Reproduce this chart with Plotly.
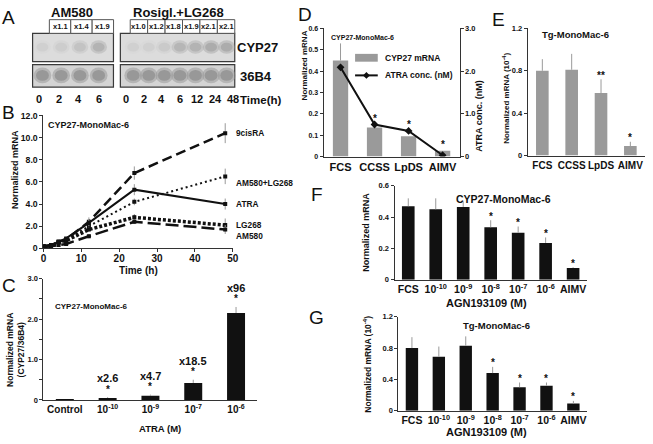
import plotly.graph_objects as go

W, H = 653, 444
FONT = "Liberation Sans, Arial, Helvetica, sans-serif"
INK = "#111111"
GRAYBAR = "#9a9a9a"
ERR = "#9a9a9a"

# ---------------- data ----------------
# Panel A: Northern blot, CYP27 fold induction
a_left_title = "AM580"
a_left_times = ["0", "2", "4", "6"]
a_left_fold = [1.0, 1.1, 1.4, 1.9]
a_left_fold_txt = ["", "x1.1", "x1.4", "x1.9"]
a_right_title = "Rosigl.+LG268"
a_right_times = ["0", "2", "4", "6", "12", "24", "48"]
a_right_fold = [1.0, 1.0, 1.2, 1.8, 1.9, 2.1, 2.1]
a_right_fold_txt = ["", "x1.0", "x1.2", "x1.8", "x1.9", "x2.1", "x2.1"]

# Panel B: time course
b_time = [0, 2, 4, 6, 12, 24, 48]
b_names = ["9cisRA", "AM580+LG268", "ATRA", "LG268", "AM580"]
b_9cisra = [0.2, 0.3, 0.6, 0.8, 2.4, 6.8, 10.4]
b_am580_lg268 = [0.2, 0.3, 0.5, 0.8, 2.0, 4.2, 6.5]
b_atra = [0.2, 0.3, 0.6, 0.9, 2.3, 5.3, 4.0]
b_lg268 = [0.2, 0.2, 0.6, 0.7, 1.7, 2.8, 2.1]
b_am580 = [0.1, 0.2, 0.3, 0.4, 1.1, 2.4, 1.7]
b_err_9cisra = [0, 0, 0, 0, 0.4, 0.6, 0.9]
b_err_am580_lg268 = [0, 0, 0, 0, 0.3, 0.3, 0.7]
b_err_atra = [0, 0, 0, 0, 0.3, 0.5, 0.5]
b_err_lg268 = [0, 0, 0, 0, 0.2, 0.3, 0.6]
b_err_am580 = [0, 0, 0, 0, 0.2, 0.2, 0.4]

# Panel C: ATRA dose response
c_cats = ["Control", "10<sup>-10</sup>", "10<sup>-9</sup>", "10<sup>-7</sup>", "10<sup>-6</sup>"]
c_vals = [0.02, 0.05, 0.10, 0.42, 2.15]
c_err = [0.0, 0.02, 0.03, 0.08, 0.15]
c_fold = ["", "x2.6", "x4.7", "x18.5", "x96"]
c_star = ["", "*", "*", "*", "*"]

# Panel D: serum types
d_cats = ["FCS", "CCSS", "LpDS", "AIMV"]
d_mrna = [0.45, 0.136, 0.095, 0.027]
d_mrna_err = [0.08, 0.0, 0.0, 0.0]
d_atra = [2.09, 0.75, 0.60, 0.03]
d_star = ["", "*", "*", "*"]

# Panel E: Tg, serum types
e_cats = ["FCS", "CCSS", "LpDS", "AIMV"]
e_vals = [0.80, 0.81, 0.59, 0.09]
e_err = [0.11, 0.15, 0.13, 0.04]
e_star = ["", "", "**", "*"]

# Panels F, G: AGN193109
fg_cats = ["FCS", "10<sup>-10</sup>", "10<sup>-9</sup>", "10<sup>-8</sup>",
           "10<sup>-7</sup>", "10<sup>-6</sup>", "AIMV"]
f_vals = [0.47, 0.45, 0.465, 0.335, 0.30, 0.235, 0.075]
f_err = [0.05, 0.07, 0.035, 0.045, 0.04, 0.035, 0.005]
f_star = ["", "", "", "*", "*", "*", "*"]
g_vals = [0.80, 0.69, 0.83, 0.48, 0.30, 0.32, 0.09]
g_err = [0.14, 0.13, 0.12, 0.08, 0.06, 0.04, 0.035]
g_star = ["", "", "", "*", "*", "*", "*"]

# ---------------- helpers ----------------
def X(p):
    return p / W

def Y(p):
    return 1 - p / H

def dx(a, b):
    return [X(a), X(b)]

def dy(top, bottom):
    return [Y(bottom), Y(top)]

def fnt(size, bold=True, color=INK):
    return dict(family=FONT, size=size, color=color, weight="bold" if bold else "normal")

shapes = []
annotations = []

def ptext(x, y, s, size=10, bold=True, xanchor="center", angle=0, yanchor="middle"):
    annotations.append(dict(xref="paper", yref="paper", x=X(x), y=Y(y), text=s,
                            showarrow=False, xanchor=xanchor, yanchor=yanchor,
                            textangle=angle, font=fnt(size, bold)))

def prect(x0, y0, x1, y1, fill, line_color="#3a3a3a", lw=1.2):
    shapes.append(dict(type="rect", xref="paper", yref="paper", x0=X(x0), x1=X(x1),
                       y0=Y(y1), y1=Y(y0), fillcolor=fill,
                       line=dict(color=line_color, width=lw), layer="above"))

def pell(cx, cy, rx, ry, fill):
    shapes.append(dict(type="circle", xref="paper", yref="paper", x0=X(cx - rx), x1=X(cx + rx),
                       y0=Y(cy + ry), y1=Y(cy - ry), fillcolor=fill,
                       line=dict(width=0), layer="above"))

def dtext(xref, yref, x, y, s, size=10, yshift=0, yanchor="middle"):
    annotations.append(dict(xref=xref, yref=yref, x=x, y=y, text=s, showarrow=False,
                            yanchor=yanchor, yshift=yshift, font=fnt(size)))

# ---------------- Panel A (gel) ----------------
blot_rows = [(29, 58, "#dcdcdc"), (61, 84, "#d4d4d4")]
gels = [
    (30, 112, 40, 19.0, 36, 20.3, a_left_times, a_left_fold, a_left_fold_txt, 47, 21.7, a_left_title, 70),
    (119, 235, 132, 15.8, 125, 18.0, a_right_times, a_right_fold, a_right_fold_txt, 129, 17.67, a_right_title, 178),
]
for (gx0, gx1, band0, bstep, lab0, lstep, times, folds, ftxt, box0, boxw, title, tx) in gels:
    for (ry0, ry1, bg) in blot_rows:
        prect(gx0, ry0, gx1, ry1, bg)
    for i, f in enumerate(folds):
        cx = band0 + bstep * i
        g = int(212 - 45 * (f - 1.0))
        pell(cx, 43, 8.5, 7, "rgba(%d,%d,%d,0.45)" % (g, g, g))
        pell(cx, 43, 6, 4.5, "rgba(%d,%d,%d,0.5)" % (g - 12, g - 12, g - 12))
        pell(cx, 72, 9, 8, "rgba(150,150,150,0.5)")
        pell(cx, 72, 6.5, 5.5, "rgba(128,128,128,0.55)")
        ptext(lab0 + lstep * i, 96, times[i], size=11)
    k = 0
    for i, t in enumerate(ftxt):
        if t:
            bx = box0 + boxw * k
            prect(bx, 15, bx + boxw, 29, "white", "#555555", 1)
            ptext(bx + boxw / 2, 22.5, t, size=7.5)
            k += 1
    ptext(tx, 8, title, size=13)
ptext(258, 43, "CYP27", size=13)
ptext(257, 73, "36B4", size=13)
ptext(261, 97, "Time(h)", size=11.5)

# ---------------- traces ----------------
fig = go.Figure()

b_series = [
    (b_9cisra, b_err_9cisra, dict(width=2.5, dash="10px,5px")),
    (b_am580_lg268, b_err_am580_lg268, dict(width=2, dash="2px,3px")),
    (b_atra, b_err_atra, dict(width=2)),
    (b_lg268, b_err_lg268, dict(width=3.5, dash="3px,2px")),
    (b_am580, b_err_am580, dict(width=2.5, dash="13px,5px")),
]
for name, (ys, es, ln) in zip(b_names, b_series):
    fig.add_trace(go.Scatter(
        x=b_time, y=ys, mode="lines+markers", name=name,
        line=dict(color=INK, **ln), marker=dict(symbol="square", size=4, color=INK),
        error_y=dict(type="data", array=es, visible=True, color=ERR, thickness=1, width=0),
        xaxis="x", yaxis="y", showlegend=False, hoverinfo="skip"))
b_label_dy = [0.0, -0.6, 0.0, 0.0, -0.6]
for name, (ys, _, _), off in zip(b_names, b_series, b_label_dy):
    annotations.append(dict(xref="x", yref="y", x=b_time[-1], y=ys[-1] + off, text=name,
                            showarrow=False, xanchor="left", xshift=9, font=fnt(8.3)))

def bars(xs, vals, errs, color, width, xa, ya):
    fig.add_trace(go.Bar(
        x=xs, y=vals, width=width, marker=dict(color=color, line=dict(width=0)),
        error_y=dict(type="data", array=errs, arrayminus=[0] * len(errs), symmetric=False,
                     visible=True, color=ERR, thickness=1, width=0),
        xaxis=xa, yaxis=ya, showlegend=False, hoverinfo="skip"))

# C
c_x = list(range(len(c_cats)))
bars(c_x, c_vals, c_err, INK, 0.42, "x2", "y2")
for i in c_x:
    top = c_vals[i] + c_err[i]
    if c_star[i]:
        dtext("x2", "y2", i, top, c_star[i], size=10, yshift=8)
    if c_fold[i]:
        dtext("x2", "y2", i, top, c_fold[i], size=11, yshift=19)

# D
d_x = list(range(len(d_cats)))
bars(d_x, d_mrna, d_mrna_err, GRAYBAR, 0.45, "x3", "y3")
fig.add_trace(go.Scatter(
    x=d_x, y=d_atra, mode="lines+markers", line=dict(color=INK, width=2),
    marker=dict(symbol="diamond", size=6, color=INK),
    xaxis="x3", yaxis="y7", showlegend=False, hoverinfo="skip"))
for i in d_x:
    if d_star[i]:
        ref = max(d_atra[i], d_mrna[i] * 5)
        dtext("x3", "y7", i, ref, d_star[i], size=10, yshift=6)

# E
e_x = list(range(len(e_cats)))
bars(e_x, e_vals, e_err, GRAYBAR, 0.43, "x4", "y4")
for i in e_x:
    if e_star[i]:
        dtext("x4", "y4", i, e_vals[i] + e_err[i], e_star[i], size=10, yshift=4)

# F, G
fg_x = list(range(len(fg_cats)))
bars(fg_x, f_vals, f_err, INK, 0.46, "x5", "y5")
bars(fg_x, g_vals, g_err, INK, 0.46, "x6", "y6")
for i in fg_x:
    if f_star[i]:
        dtext("x5", "y5", i, f_vals[i] + f_err[i], f_star[i], size=10, yshift=4)
    if g_star[i]:
        dtext("x6", "y6", i, g_vals[i] + g_err[i], g_star[i], size=10, yshift=4)

# D legend (manual)
prect(357, 50, 380, 58, GRAYBAR, GRAYBAR, 0)
ptext(385, 54, "CYP27 mRNA", size=8.5, xanchor="left")
shapes.append(dict(type="line", xref="paper", yref="paper", x0=X(357), x1=X(380),
                   y0=Y(72), y1=Y(72), line=dict(color=INK, width=2)))
shapes.append(dict(type="path", xref="paper", yref="paper",
                   path="M %f,%f L %f,%f L %f,%f L %f,%f Z" % (
                       X(368.5), Y(68.5), X(372), Y(72), X(368.5), Y(75.5), X(365), Y(72)),
                   fillcolor=INK, line=dict(width=0)))
ptext(385, 72, "ATRA conc. (nM)", size=8.5, xanchor="left")

# ---------------- titles / axis labels ----------------
for letter, lx, ly in [("A", 6, 13), ("B", 6, 110), ("C", 6, 287), ("D", 306, 10),
                       ("E", 502, 15), ("F", 318, 194), ("G", 318, 320)]:
    ptext(lx, ly, letter, size=19, bold=False)

ptext(87, 123, "CYP27-MonoMac-6", size=9)
ptext(90, 308, "CYP27-MonoMac-6", size=8)
ptext(365, 33, "CYP27-MonoMac-6", size=7)
ptext(580, 30, "Tg-MonoMac-6", size=9.5)
ptext(508, 198, "CYP27-MonoMac-6", size=10.5)
ptext(500, 328, "Tg-MonoMac-6", size=9.5)

ptext(12, 168, "Normalized mRNA", size=9, angle=-90)
ptext(137, 272, "Time (h)", size=10)
ptext(12, 353, "Normalized mRNA<br>(CYP27/36B4)", size=8.5, angle=-90)
ptext(159, 433, "ATRA (M)", size=9.5)
ptext(306, 62, "Normalized mRNA", size=8, angle=-90)
ptext(483, 113, "ATRA conc. (nM)", size=9, angle=-90)
ptext(510, 95, "Normalized mRNA (10<sup>-4</sup>)", size=8, angle=-90)
ptext(368, 232, "Normalized mRNA", size=9, angle=-90)
ptext(490, 305, "AGN193109 (M)", size=11)
ptext(370, 367, "Normalized mRNA (10<sup>-4</sup>)", size=8.5, angle=-90)
ptext(490, 437, "AGN193109 (M)", size=11)

# ---------------- axes ----------------
def axis(**kw):
    d = dict(showline=True, linecolor="#333333", linewidth=1, showgrid=False, zeroline=False,
             ticks="outside", ticklen=3, tickwidth=1, tickcolor="#333333",
             tickfont=fnt(7.5), fixedrange=True)
    d.update(kw)
    return d

def cat_axis(**kw):
    return axis(ticks="", tickangle=0, **kw)

def fmt(v, dec=1):
    return "0" if v == 0 else ("%." + str(dec) + "f") % v

layout_axes = dict(
    xaxis=axis(domain=dx(41, 233), range=[0, 50], anchor="y", ticklabelstandoff=-2,
               tickvals=[0, 10, 20, 30, 40, 50], tickfont=fnt(10)),
    yaxis=axis(domain=dy(113, 249), range=[0, 12], anchor="x",
               tickvals=[0, 2, 4, 6, 8, 10, 12],
               ticktext=[fmt(v) for v in [0, 2, 4, 6, 8, 10, 12]], tickfont=fnt(8.7)),
    xaxis2=cat_axis(domain=dx(41, 258), range=[-0.5, 4.5], anchor="y2",
                    tickvals=c_x, ticktext=c_cats, tickfont=fnt(10)),
    yaxis2=axis(domain=dy(280, 404), range=[0, 3], anchor="x2",
                tickvals=[0, 0.5, 1, 1.5, 2, 2.5, 3],
                ticktext=["0", " ", "1.0", " ", "2.0", " ", "3.0"]),
    xaxis3=cat_axis(domain=dx(325, 463), range=[-0.5, 3.5], anchor="y3",
                    tickvals=d_x, ticktext=d_cats, tickfont=fnt(11)),
    yaxis3=axis(domain=dy(24, 155), range=[0, 0.6], anchor="x3",
                tickvals=[0, 0.1, 0.2, 0.3, 0.4, 0.5, 0.6],
                ticktext=[fmt(v) for v in [0, 0.1, 0.2, 0.3, 0.4, 0.5, 0.6]], tickfont=fnt(7)),
    yaxis7=axis(domain=dy(24, 155), range=[0, 3], anchor="x3", overlaying="y3", side="right",
                tickvals=[0, 1, 2, 3], ticktext=["0", "1.0", "2.0", "3.0"]),
    xaxis4=cat_axis(domain=dx(532, 651), range=[-0.5, 3.5], anchor="y4",
                    tickvals=e_x, ticktext=e_cats, tickfont=fnt(10)),
    yaxis4=axis(domain=dy(24, 154), range=[0, 1.2], anchor="x4",
                tickvals=[0, 0.4, 0.8, 1.2], ticktext=["0", "0.4", "0.8", "1.2"]),
    xaxis5=cat_axis(domain=dx(397, 592), range=[-0.5, 6.5], anchor="y5",
                    tickvals=fg_x, ticktext=fg_cats, tickfont=fnt(10.5)),
    yaxis5=axis(domain=dy(185, 281), range=[0, 0.6], anchor="x5",
                tickvals=[0, 0.2, 0.4, 0.6], ticktext=["0", "0.2", "0.4", "0.6"]),
    xaxis6=cat_axis(domain=dx(401, 592), range=[-0.5, 6.5], anchor="y6",
                    tickvals=fg_x, ticktext=fg_cats, tickfont=fnt(10.5)),
    yaxis6=axis(domain=dy(319, 415), range=[0, 1.2], anchor="x6",
                tickvals=[0, 0.4, 0.8, 1.2], ticktext=["0", "0.4", "0.8", "1.2"]),
)

fig.update_layout(
    width=W, height=H, autosize=False,
    margin=dict(l=0, r=0, t=0, b=0),
    paper_bgcolor="white", plot_bgcolor="rgba(0,0,0,0)",
    font=fnt(9), showlegend=False, barmode="overlay",
    shapes=shapes, annotations=annotations,
    **layout_axes,
)

fig.write_html(
    "out.html", include_plotlyjs=True,
    config={"displayModeBar": False, "staticPlot": True},
    post_script="document.body.style.margin='0';document.body.style.overflow='hidden';",
)
